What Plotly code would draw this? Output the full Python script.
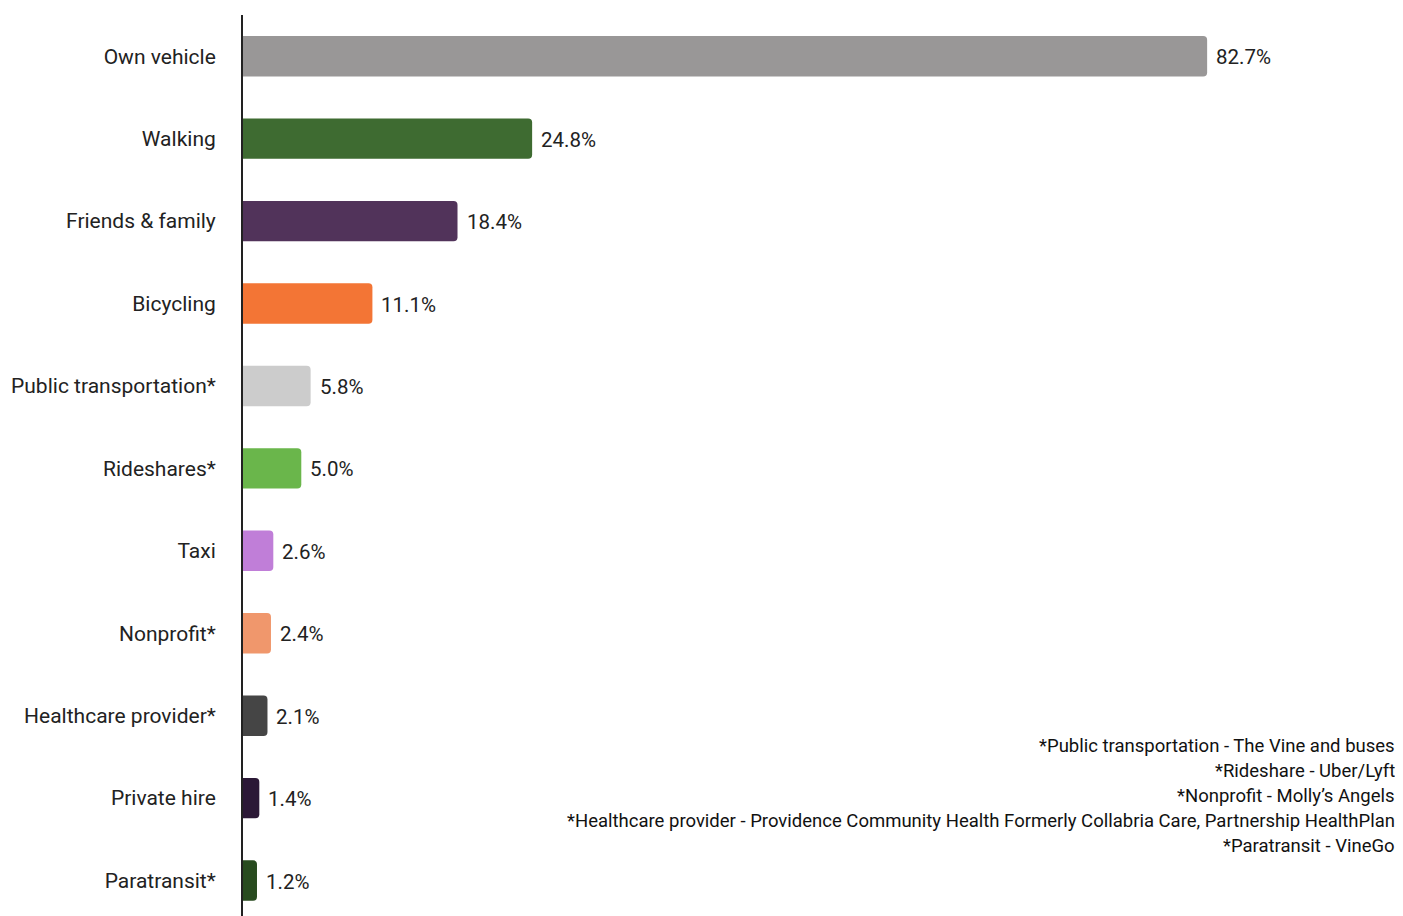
import plotly.graph_objects as go

categories = ["Own vehicle", "Walking", "Friends & family", "Bicycling",
              "Public transportation*", "Rideshares*", "Taxi", "Nonprofit*",
              "Healthcare provider*", "Private hire", "Paratransit*"]
values = [82.7, 24.8, 18.4, 11.1, 5.8, 5.0, 2.6, 2.4, 2.1, 1.4, 1.2]
colors = ["#999797", "#3e6b31", "#51335a", "#f37535", "#cccccc", "#6ab64b",
          "#c07ed8", "#f0976c", "#454545", "#2b1836", "#284b1f"]
footnotes = ["*Public transportation - The Vine and buses",
             "*Rideshare - Uber/Lyft",
             "*Nonprofit - Molly\u2019s Angels",
             "*Healthcare provider - Providence Community Health Formerly Collabria Care, Partnership HealthPlan",
             "*Paratransit - VineGo"]

# page body has an 8px margin, so the figure is sized to fit the window
W, H = 1395, 908
top, bottom = 7, 0
plot_h = H - top - bottom

fig = go.Figure(go.Bar(
    x=values, y=categories, orientation="h",
    marker=dict(color=colors, line=dict(width=0)),
    width=0.49,
    hoverinfo="x+y",
))

for v, c in zip(values, categories):
    fig.add_annotation(x=v, y=c, text=f"{v:.1f}%", showarrow=False,
                       xanchor="left", xshift=7, yshift=-1,
                       font=dict(family="Roboto", size=20.5, color="#222222"))

for i, line in enumerate(footnotes):
    ypx = 746 + 25 * i
    fig.add_annotation(xref="paper", yref="paper", x=1, y=(916 - ypx) / plot_h,
                       text=line, showarrow=False, xanchor="right", yanchor="middle",
                       xshift=-6,
                       font=dict(family="Roboto", size=18.5, color="#111111"))

fig.update_layout(
    width=W, height=H,
    margin=dict(l=235, r=0, t=top, b=bottom),
    plot_bgcolor="white", paper_bgcolor="white",
    barcornerradius=4,
    showlegend=False,
    font=dict(family="Roboto", size=21, color="#222222"),
    xaxis=dict(range=[0, 99.5], showgrid=False, showticklabels=False,
               zeroline=False, showline=False, fixedrange=True),
    yaxis=dict(categoryorder="array", categoryarray=categories,
               range=[10.43, -0.5], showgrid=False, showline=True,
               linecolor="#222222", linewidth=2, ticks="",
               ticklabelstandoff=21, tickfont=dict(family="Roboto", size=21, color="#222222"),
               fixedrange=True),
)

fig.write_html("out.html")
